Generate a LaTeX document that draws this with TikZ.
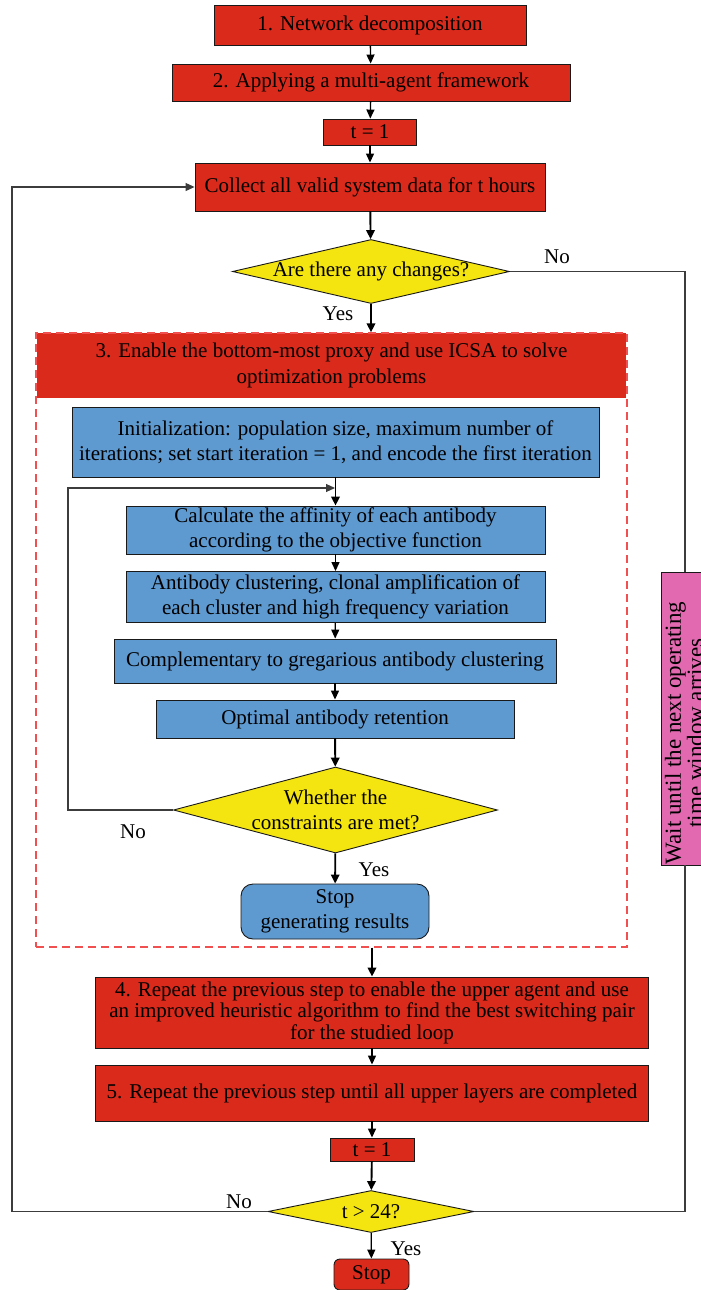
\documentclass[tikz,border=0pt]{standalone}
\usepackage{fontspec}
\setmainfont{Liberation Serif}
\usetikzlibrary{shapes.geometric,arrows.meta,calc}
\definecolor{cred}{RGB}{218,42,28}
\definecolor{cblue}{RGB}{94,153,208}
\definecolor{cyel}{RGB}{244,228,16}
\definecolor{cpink}{RGB}{226,104,176}
\definecolor{cdash}{RGB}{240,80,80}
\definecolor{cline}{RGB}{60,60,60}
\newcommand\fa{\fontsize{21}{25.5}\selectfont}
\newcommand\fb{\fontsize{21}{21.5}\selectfont}
\newcommand\fc{\fontsize{23}{22}\selectfont}
\begin{document}
\begin{tikzpicture}[x=1pt,y=-1pt,
  box/.style={draw=black!90,line width=0.9pt,inner sep=0pt,align=center,font=\fa},
  redbox/.style={box,fill=cred},
  bluebox/.style={box,fill=cblue},
  diam/.style={diamond,draw=black!90,line width=0.9pt,fill=cyel,inner sep=0pt},
  lbl/.style={font=\fa,inner sep=0pt},
  thin arrow/.style={line width=1.3pt,-{Triangle[length=9pt,width=8pt]}},
  thick arrow/.style={line width=1.9pt,-{Triangle[length=9pt,width=8.5pt]}},
  loopline/.style={draw=cline,line width=1.1pt}]
\useasboundingbox (0,0) rectangle (701,1290);
\clip (0,0) rectangle (701,1290);

% top part
\node[redbox,minimum width=312,minimum height=40] (b1) at (370,25.5) {1. Network decomposition};
\node[redbox,minimum width=398,minimum height=37] (b2) at (371,82.5) {2. Applying a multi-agent framework};
\node[redbox,minimum width=93,minimum height=26] (t1) at (370,132) {t = 1};
\node[redbox,minimum width=350,minimum height=48] (collect) at (370,187) {Collect all valid system data for t hours};
\node[diam,minimum width=277,minimum height=64] (d1) at (371,271.5) {};
\node[lbl] (d1t) at (d1.center) {Are there any changes?};
\node[lbl] (no1) at (557,257) {No};
\node[lbl] (yes1) at (338,314) {Yes};

% ICSA container
\node[inner sep=0pt,minimum width=589,minimum height=65,fill=cred,align=center,font=\fa] (h3) at (331.5,365.5)
  {3. Enable the bottom-most proxy and use ICSA to solve\\optimization problems};
\node[draw=cdash,line width=1.4pt,dash pattern=on 8pt off 5pt,minimum width=591,minimum height=614,inner sep=0pt] (icsa) at (331.5,640) {};

\node[bluebox,minimum width=527,minimum height=70] (init) at (335.5,442)
  {Initialization: population size, maximum number of\\iterations; set start iteration = 1, and encode the first iteration};
\node[bluebox,minimum width=419,minimum height=48] (calc) at (335.5,530)
  {Calculate the affinity of each antibody\\according to the objective function};
\node[bluebox,minimum width=419,minimum height=51] (clus) at (335.5,597)
  {Antibody clustering, clonal amplification of\\each cluster and high frequency variation};
\node[bluebox,minimum width=442,minimum height=44] (comp) at (335,661)
  {Complementary to gregarious antibody clustering};
\node[bluebox,minimum width=358,minimum height=38] (opt) at (335,719)
  {Optimal antibody retention};
\node[diam,minimum width=324,minimum height=86] (d2) at (335.5,810) {};
\node[lbl,align=center] (d2t) at (d2.center) {Whether the\\constraints are met?};
\node[bluebox,rounded corners=12pt,minimum width=188,minimum height=55] (stopgen) at (335,911.5)
  {Stop\\generating results};
\node[lbl] (no2) at (133,832) {No};
\node[lbl] (yes2) at (374,870) {Yes};

% lower part
\node[redbox,minimum width=553,minimum height=71,font=\fb] (b4) at (372,1012.5)
  {4. Repeat the previous step to enable the upper agent and use\\an improved heuristic algorithm to find the best switching pair\\for the studied loop};
\node[redbox,minimum width=553,minimum height=56] (b5) at (372,1093)
  {5. Repeat the previous step until all upper layers are completed};
\node[redbox,minimum width=84,minimum height=23] (t2) at (372,1149.5) {t = 1};
\node[diam,minimum width=206,minimum height=42] (d3) at (371,1211.5) {};
\node[lbl] (d3t) at (d3.center) {t > 24?};
\node[redbox,rounded corners=6pt,minimum width=75,minimum height=31] (stop) at (371.5,1274.5) {Stop};
\node[lbl] (no3) at (239,1202) {No};
\node[lbl] (yes3) at (406,1249) {Yes};

% waiting box (clipped at right edge, as in the reference)
\node[box,fill=cpink,minimum width=48,minimum height=293] (wait) at (685,718.5) {};
\node[rotate=90,align=center,font=\fc,inner sep=0pt] (waitt) at (684,733)
  {Wait until the next operating\\time window arrives};

% connectors
\draw[thin arrow] (b1) -- (b2);
\draw[thin arrow] (b2) -- (t1);
\draw[thin arrow] (t1) -- (collect);
\draw[thick arrow] (collect) -- (d1);
\draw[thick arrow] (d1.south) -- (d1.south |- icsa.north);
\draw[thick arrow] (init.south) -- (calc.north);
\draw[thin arrow] (calc) -- (clus);
\draw[thin arrow] (clus) -- (comp);
\draw[thin arrow] (comp.south) -- (opt.north);
\draw[thick arrow] (opt) -- (d2);
\draw[thick arrow] (d2) -- (stopgen);
\coordinate (lp) at (335,488);
\draw[loopline,-{Triangle[length=9pt,width=8pt]}] (d2.west) -- (68,810) |- (lp);
\draw[thick arrow] (icsa.south -| b4.north) -- (b4.north);
\draw[thin arrow] (b4) -- (b5);
\draw[thin arrow] (b5) -- (t2);
\draw[thick arrow] (t2) -- (d3);
\draw[thin arrow] (d3) -- (stop);
\draw[loopline,-{Triangle[length=9pt,width=8pt]}] (d3.west) -- (12,1211.5) |- (collect.west);
\draw[loopline] (d1.east) -| (wait.north);
\draw[loopline] (wait.south) |- (d3.east);
\end{tikzpicture}
\end{document}
